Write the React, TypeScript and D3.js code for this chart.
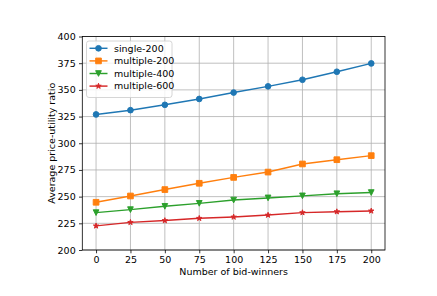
import React, { useRef, useEffect } from 'react';
import * as d3 from 'd3';

const winners = [0, 25, 50, 75, 100, 125, 150, 175, 200];
const single200 = [327, 331, 336, 341.5, 347.5, 353.3, 359.5, 367, 374.8];
const multiple200 = [244.7, 250.6, 256.6, 262.5, 268, 273, 280.6, 284.6, 288.4];
const multiple400 = [235, 237.8, 240.9, 243.7, 246.8, 248.8, 250.7, 252.7, 253.8];
const multiple600 = [222.6, 225.9, 227.6, 229.7, 230.9, 232.7, 235, 235.9, 236.6];
const xTicks = [0, 25, 50, 75, 100, 125, 150, 175, 200];
const yTicks = [200, 225, 250, 275, 300, 325, 350, 375, 400];

const seriesNames = ['single-200', 'multiple-200', 'multiple-400', 'multiple-600'];
const seriesColors = ['#1f77b4', '#ff7f0e', '#2ca02c', '#d62728'];
const seriesMarkers = ['circle', 'square', 'triangle', 'star'];

const W = 437;
const H = 296;

const App: React.FC = () => {
  const svgRef = useRef<SVGSVGElement>(null);

  useEffect(() => {
    if (!svgRef.current) return;
    const svg = d3.select(svgRef.current);
    svg.selectAll('*').remove();

    const left = 82.3, right = 385, top = 36.5, bottom = 250;
    const x = d3.scaleLinear().domain([-10, 210]).range([left, right]);
    const y = d3.scaleLinear().domain([200, 400]).range([bottom, top]);
    const font = 'DejaVu Sans, sans-serif';
    const fs = 9.5;
    const ms = 5.7; // marker size in px

    svg.append('rect').attr('width', W).attr('height', H).attr('fill', '#fff');

    // grid
    const grid = svg.append('g').attr('stroke', '#b0b0b0').attr('stroke-width', 0.8);
    xTicks.forEach(t => {
      grid.append('line').attr('x1', x(t)).attr('x2', x(t)).attr('y1', top).attr('y2', bottom);
    });
    yTicks.forEach(t => {
      grid.append('line').attr('x1', left).attr('x2', right).attr('y1', y(t)).attr('y2', y(t));
    });

    const allSeries = [single200, multiple200, multiple400, multiple600];

    const symbolFor = (m: string) => {
      const r = ms / 2;
      if (m === 'circle') return d3.symbol().type(d3.symbolCircle).size(Math.PI * r * r)();
      if (m === 'square') return d3.symbol().type(d3.symbolSquare).size(ms * ms)();
      if (m === 'star') return d3.symbol().type(d3.symbolStar).size((r * r) / 0.8908130915)();
      // triangle down
      return `M${-r},${-r}L${r},${-r}L0,${r}Z`;
    };

    allSeries.forEach((vals, i) => {
      const line = d3.line<number>().x((_, j) => x(winners[j])).y(d => y(d));
      svg.append('path')
        .attr('d', line(vals)!)
        .attr('fill', 'none')
        .attr('stroke', seriesColors[i])
        .attr('stroke-width', 1.45);
      svg.append('g').selectAll('path')
        .data(vals)
        .join('path')
        .attr('d', symbolFor(seriesMarkers[i]))
        .attr('transform', (d, j) => `translate(${x(winners[j])},${y(d)})`)
        .attr('fill', seriesColors[i])
        .attr('stroke', seriesColors[i])
        .attr('stroke-width', 0.95)
        .attr('stroke-linejoin', 'round');
    });

    // frame
    svg.append('rect')
      .attr('x', left).attr('y', top)
      .attr('width', right - left).attr('height', bottom - top)
      .attr('fill', 'none').attr('stroke', '#000').attr('stroke-width', 0.8);

    // x axis
    const xAxis = svg.append('g').attr('transform', `translate(0,${bottom})`)
      .call(d3.axisBottom(x).tickValues(xTicks).tickSize(3.3).tickPadding(3.3).tickFormat(d3.format('d')));
    xAxis.select('.domain').remove();
    xAxis.selectAll('text').attr('font-family', font).attr('font-size', fs).attr('fill', '#000');
    xAxis.selectAll('line').attr('stroke-width', 0.8);

    const yAxis = svg.append('g').attr('transform', `translate(${left},0)`)
      .call(d3.axisLeft(y).tickValues(yTicks).tickSize(3.3).tickPadding(3.3).tickFormat(d3.format('d')));
    yAxis.select('.domain').remove();
    yAxis.selectAll('text').attr('font-family', font).attr('font-size', fs).attr('fill', '#000');
    yAxis.selectAll('line').attr('stroke-width', 0.8);

    svg.append('text')
      .attr('x', (left + right) / 2).attr('y', 275)
      .attr('text-anchor', 'middle')
      .attr('font-family', font).attr('font-size', fs)
      .text('Number of bid-winners');

    svg.append('text')
      .attr('transform', `translate(55,${(top + bottom) / 2}) rotate(-90)`)
      .attr('text-anchor', 'middle')
      .attr('font-family', font).attr('font-size', fs)
      .text('Average price-utility ratio');

    // legend
    const lg = svg.append('g');
    lg.append('rect')
      .attr('x', 86.5).attr('y', 41).attr('width', 85.5).attr('height', 56.5)
      .attr('rx', 2.5)
      .attr('fill', '#fff').attr('fill-opacity', 0.8)
      .attr('stroke', '#ccc').attr('stroke-width', 0.8);
    seriesNames.forEach((name, i) => {
      const ly = 48.3 + i * 12.6;
      lg.append('line')
        .attr('x1', 89.5).attr('x2', 107.5).attr('y1', ly).attr('y2', ly)
        .attr('stroke', seriesColors[i]).attr('stroke-width', 1.45);
      lg.append('path')
        .attr('d', symbolFor(seriesMarkers[i]))
        .attr('transform', `translate(98.5,${ly})`)
        .attr('fill', seriesColors[i])
        .attr('stroke', seriesColors[i])
        .attr('stroke-width', 0.95)
        .attr('stroke-linejoin', 'round');
      lg.append('text')
        .attr('x', 114).attr('y', ly).attr('dy', '0.35em')
        .attr('font-family', font).attr('font-size', fs)
        .text(name);
    });
  }, []);

  return (
    <svg ref={svgRef} width={W} height={H} style={{ position: 'absolute', left: 0, top: 0 }} />
  );
};

export default App;
